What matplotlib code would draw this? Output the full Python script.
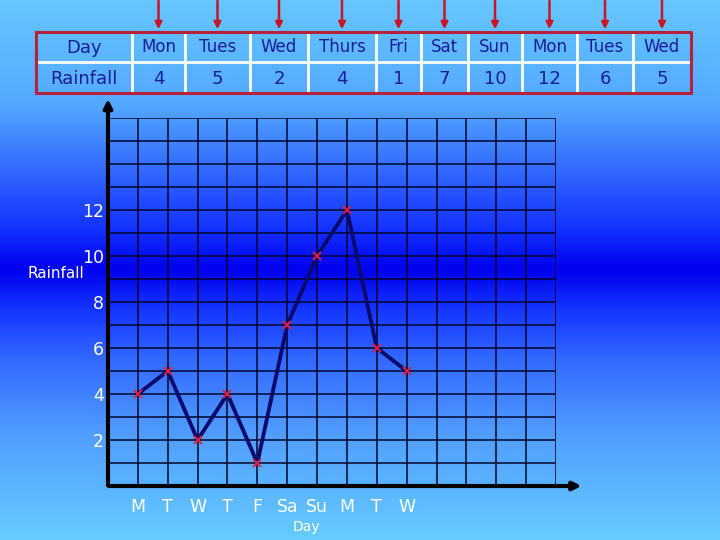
import matplotlib.pyplot as plt
import numpy as np
from matplotlib.colors import LinearSegmentedColormap

# table data
day_names = ["Mon", "Tues", "Wed", "Thurs", "Fri", "Sat", "Sun", "Mon", "Tues", "Wed"]
rainfall = [4, 5, 2, 4, 1, 7, 10, 12, 6, 5]

# graph data
day_index = [1, 2, 3, 4, 5, 6, 7, 8, 9, 10]
day_letters = ["M", "T", "W", "T", "F", "Sa", "Su", "M", "T", "W"]
y_ticks = [2, 4, 6, 8, 10, 12]

navy = "#1c1c96"
font = "DejaVu Sans"

fig = plt.figure(figsize=(7.2, 5.4), dpi=100)

# background gradient, pixel coords
bg = fig.add_axes([0, 0, 1, 1])
bg.set_xlim(0, 720)
bg.set_ylim(540, 0)
bg.axis("off")
stops = [(0.0, (0.40, 0.78, 1.0)), (0.19, (0.33, 0.66, 1.0)), (0.33, (0.18, 0.38, 1.0)),
         (0.42, (0.08, 0.2, 1.0)), (0.5, (0.0, 0.0, 0.93)), (0.57, (0.08, 0.2, 1.0)),
         (0.67, (0.2, 0.42, 1.0)), (0.81, (0.32, 0.62, 1.0)), (1.0, (0.40, 0.80, 1.0))]
cmap = LinearSegmentedColormap.from_list("bg", stops)
grad = np.linspace(0, 1, 540).reshape(-1, 1)
bg.imshow(grad, cmap=cmap, extent=[0, 720, 540, 0], aspect="auto", zorder=0)

# table at the top
edges = [36, 132, 185, 250, 308, 376, 421, 468, 522, 577, 633, 691]
top, mid, bottom = 32, 62, 93
for x in edges[1:-1]:
    bg.plot([x, x], [top, bottom], color="white", lw=2, zorder=2)
bg.plot([edges[0], edges[-1]], [mid, mid], color="white", lw=2, zorder=2)
bg.plot([edges[0], edges[-1], edges[-1], edges[0], edges[0]],
        [top, top, bottom, bottom, top], color="#b8203c", lw=2.2, zorder=3)

bg.text((edges[0] + edges[1]) / 2, (top + mid) / 2 + 1, "Day", color=navy,
        fontsize=13, ha="center", va="center", family=font)
bg.text((edges[0] + edges[1]) / 2, (mid + bottom) / 2 + 1, "Rainfall", color=navy,
        fontsize=13, ha="center", va="center", family=font)
for i, (d, r) in enumerate(zip(day_names, rainfall)):
    cx = (edges[i + 1] + edges[i + 2]) / 2
    bg.text(cx, (top + mid) / 2, d, color=navy, fontsize=12, ha="center", va="center", family=font)
    bg.text(cx, (mid + bottom) / 2 + 1, str(r), color=navy, fontsize=13,
            ha="center", va="center", family=font)
    bg.annotate("", xy=(cx, top), xytext=(cx, -2),
                arrowprops=dict(arrowstyle="-|>", color="#cc1428", lw=1.8, mutation_scale=10))

# the graph
ax = fig.add_axes([108 / 720, 54 / 540, 448 / 720, 368 / 540])
ax.set_facecolor("none")
ax.set_xlim(0, 15)
ax.set_ylim(0, 16)
ax.set_xticks(day_index)
ax.set_xticklabels(day_letters)
ax.set_xticks(np.arange(0, 16), minor=True)
ax.set_yticks(y_ticks)
ax.set_yticks(np.arange(0, 17), minor=True)
ax.grid(True, which="both", color="#05052a", lw=1.1)
ax.set_axisbelow(True)
for s in ax.spines.values():
    s.set_visible(False)
ax.tick_params(which="both", length=0, colors="white", labelsize=12.5)
ax.tick_params(axis="x", pad=9)
ax.tick_params(axis="y", pad=3)
for lab in ax.get_xticklabels() + ax.get_yticklabels():
    lab.set_family(font)

ax.plot(day_index, rainfall, color="#0a0a6e", lw=2.8, zorder=3)
ax.plot(day_index, rainfall, "x", color="#e0203a", ms=6, mew=1.4, zorder=4)

# axis arrows
ax.annotate("", xy=(0, 16.95), xytext=(0, -0.1), annotation_clip=False,
            arrowprops=dict(arrowstyle="-|>", color="black", lw=3, mutation_scale=12))
ax.annotate("", xy=(15.95, 0), xytext=(-0.05, 0), annotation_clip=False,
            arrowprops=dict(arrowstyle="-|>", color="black", lw=3, mutation_scale=12))

fig.text(56 / 720, 1 - 274 / 540, "Rainfall", color="white", fontsize=11,
         ha="center", va="center", family=font)
fig.text(306 / 720, 1 - 527 / 540, "Day", color="white", fontsize=10,
         ha="center", va="center", family=font)

fig.savefig("out.png", dpi=100)
